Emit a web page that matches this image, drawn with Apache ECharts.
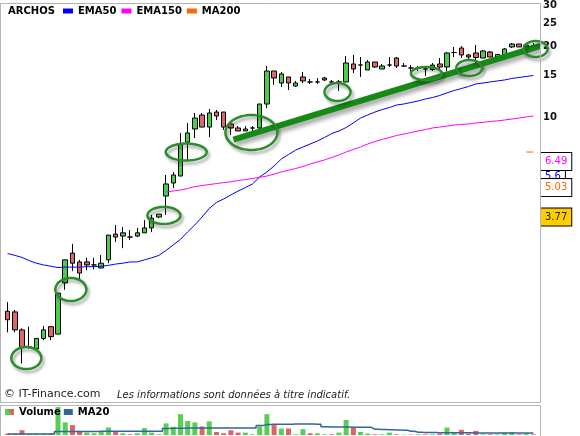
<!DOCTYPE html>
<html>
<head>
<meta charset="utf-8">
<script src="https://cdn.jsdelivr.net/npm/echarts@6/dist/echarts.min.js"></script>
<style>html,body{margin:0;padding:0;background:#fff}#c{width:580px;height:436px}</style>
</head>
<body>
<div id="c"></div>
<script>
// ---------- data ----------
const categories = Array.from({length: 74}, (_, i) => 'S' + (i + 1));
const opens  = [1.50,1.49,1.25,1.06,1.04,1.15,1.29,1.20,1.98,2.65,2.43,2.43,2.36,2.29,2.48,3.19,3.13,3.10,3.13,3.23,3.39,3.77,4.63,5.26,5.63,7.85,8.92,10.23,9.09,10.53,10.53,9.37,9.01,8.75,9.01,9.01,11.39,15.73,13.99,14.84,13.58,14.84,14.13,14.13,14.69,14.13,14.13,14.13,16.85,16.68,15.89,17.18,16.04,16.68,17.86,16.52,16.20,16.20,16.04,15.96,16.85,16.36,18.85,19.70,18.40,18.76,17.86,18.94,18.04,18.22,19.90,20.48,19.90,20.09];
const closes = [1.38,1.25,1.05,1.06,1.15,1.25,1.17,1.79,2.48,2.40,2.18,2.36,2.36,2.40,3.16,3.10,3.23,3.10,3.23,3.39,3.73,3.88,5.21,5.69,7.70,8.58,9.93,9.09,10.43,10.13,9.09,9.01,8.75,8.92,9.01,11.39,15.73,14.69,15.28,13.99,13.99,14.27,14.13,14.13,14.41,14.13,14.13,17.01,16.04,16.68,17.18,16.36,16.52,16.68,16.52,16.52,16.20,16.20,16.04,16.68,16.36,18.76,18.85,18.40,18.04,17.95,19.13,18.04,18.50,19.51,20.48,19.90,20.28,20.09];
const lows   = [1.22,1.22,0.90,1.04,1.04,1.13,1.13,1.20,1.85,2.22,2.04,2.24,2.26,2.29,2.40,2.95,2.78,3.01,3.10,3.23,3.26,3.73,3.85,5.01,5.63,6.59,8.17,9.09,8.25,9.74,8.83,8.41,8.75,8.75,8.75,8.83,10.95,13.72,13.45,13.06,13.45,13.99,13.85,13.85,14.27,13.85,12.93,14.13,15.43,14.84,15.89,16.20,16.04,16.36,16.20,16.36,15.58,15.73,14.98,15.73,15.89,15.73,18.04,17.86,17.52,16.52,17.86,18.04,18.04,18.22,19.70,19.90,19.70,19.32];
const highs  = [1.64,1.52,1.27,1.29,1.15,1.30,1.29,1.79,2.48,2.90,2.48,2.53,2.53,2.60,3.16,3.49,3.42,3.32,3.39,3.66,3.85,3.88,5.69,5.86,8.58,9.46,10.43,10.43,10.85,10.74,10.53,9.55,9.18,9.18,9.18,11.39,16.52,15.73,15.58,14.84,14.27,15.58,14.55,14.69,14.84,14.41,14.41,18.22,18.40,18.04,17.52,17.18,16.85,18.04,18.04,17.01,16.68,16.52,16.36,17.01,17.86,18.94,19.90,20.09,18.58,20.28,19.32,19.13,18.58,19.70,20.68,20.48,20.48,20.68];
const ema50  = [2.64,2.59,2.54,2.46,2.40,2.36,2.33,2.30,2.31,2.31,2.31,2.32,2.32,2.33,2.35,2.38,2.40,2.43,2.43,2.48,2.53,2.59,2.72,2.87,3.03,3.26,3.49,3.77,4.10,4.35,4.50,4.68,4.86,5.03,5.21,5.58,5.86,6.21,6.65,6.95,7.26,7.48,7.70,7.93,8.21,8.53,8.75,9.05,9.46,9.93,10.23,10.53,10.79,11.00,11.28,11.39,11.56,11.73,11.96,12.14,12.38,12.70,13.00,13.25,13.52,13.85,13.99,14.13,14.27,14.41,14.62,14.76,14.91,15.05];
const ema150 = [null,null,null,null,null,null,null,null,null,null,null,null,null,null,null,null,null,null,null,null,null,null,4.82,4.86,4.91,4.98,5.08,5.13,5.18,5.23,5.28,5.32,5.39,5.44,5.50,5.56,5.63,5.74,5.86,5.96,6.06,6.18,6.33,6.46,6.59,6.75,6.92,7.12,7.30,7.48,7.70,7.89,8.05,8.21,8.37,8.49,8.62,8.75,8.87,9.01,9.09,9.18,9.27,9.32,9.37,9.46,9.52,9.60,9.66,9.74,9.83,9.93,10.03,10.13];
const ma200  = [null,null,null,null,null,null,null,null,null,null,null,null,null,null,null,null,null,null,null,null,null,null,null,null,null,null,null,null,null,null,null,null,null,null,null,null,null,null,null,null,null,null,null,null,null,null,null,null,null,null,null,null,null,null,null,null,null,null,null,null,null,null,null,null,null,null,null,null,null,null,null,null,7.12,7.12];
const volumes = [100,100,350,100,100,100,100,2050,925,725,300,175,125,275,550,225,125,50,125,500,175,50,850,600,1525,1025,925,625,1000,225,125,350,175,175,50,625,1525,725,475,475,50,425,125,125,50,50,175,1100,550,225,100,50,50,175,50,25,25,50,50,50,100,550,225,375,100,300,50,50,50,175,225,50,100,50];
const volMA20 = [75,75,75,75,75,75,75,250,250,260,260,265,265,270,270,275,275,275,280,280,280,280,480,490,500,505,510,510,510,515,515,515,520,520,520,700,760,780,790,790,800,800,800,790,600,590,580,580,570,560,560,420,400,380,360,340,280,200,190,180,170,170,170,160,160,150,150,150,150,150,150,150,150,150];
const yTickLabels = [10, 15, 20, 25, 30];
const lastEMA150 = 6.49, lastEMA50 = 5.6, lastMA200 = 5.03, lastPrice = 3.77;
// trend line endpoints [category position, price]
const trendLine = [[31.35, 8.04], [73.97, 20.09]];
// circled zones: [category position, price]
const circleCenters = [[2.6, 0.949], [8.78, 1.856], [21.7, 3.83], [24.8, 7.12], [33.85, 8.62], [45.8, 12.81], [58.15, 15.35], [64.1, 16.20], [73.3, 19.51]];

// ---------- styling ----------
const circleRadii = [[15, 11], [15.5, 11.5], [16.5, 8.5], [20.5, 8.5], [26, 17.5], [13, 9], [15.5, 6.5], [13, 8], [12, 8]];
const FONT = 'DejaVu Sans';
const UP = '#4ccc4c', DOWN = '#dd6666', VUP = '#55d055', VDOWN = '#e06262';
const MARK_GREEN = '#168a16';

function markAt(value, color, bg) {
  return {
    silent: true, symbol: 'none', animation: false,
    lineStyle: { color: 'rgba(0,0,0,0)', width: 1, type: 'solid' },
    label: {
      show: true, position: 'end', distance: 4, formatter: String(value),
      color: color, backgroundColor: bg || '#fff', borderColor: '#000', borderWidth: 1,
      padding: [3, 4, 2, 4], fontFamily: FONT, fontSize: 10, lineHeight: 12
    },
    emphasis: { disabled: true },
    data: [{ yAxis: value }]
  };
}

const chart = echarts.init(document.getElementById('c'), null, { renderer: 'canvas' });
const candleData = opens.map((o, i) => [o, closes[i], lows[i], highs[i]]);

chart.setOption({
  animation: false,
  backgroundColor: '#fff',
  title: {
    text: 'ARCHOS', left: 8, top: 6, padding: 0,
    textStyle: { fontFamily: FONT, fontWeight: 'bold', fontSize: 10, color: '#000' }
  },
  legend: [{
    data: ['EMA50', 'EMA150', 'MA200'], left: 63, top: 6, padding: 0,
    itemWidth: 10, itemHeight: 5, itemGap: 5, icon: 'rect', selectedMode: false,
    textStyle: { fontFamily: FONT, fontWeight: 'bold', fontSize: 10, color: '#000' }
  }, {
    data: [
      { name: 'Volume', icon: 'rect', itemStyle: { color: { type: 'linear', x: 0, y: 1, x2: 1, y2: 0,
        colorStops: [{ offset: 0, color: VUP }, { offset: 0.5, color: VUP }, { offset: 0.5, color: VDOWN }, { offset: 1, color: VDOWN }] } } },
      { name: 'MA20', icon: 'rect' }
    ],
    left: 5, top: 407, padding: 0, itemWidth: 9, itemHeight: 6, itemGap: 3, selectedMode: false,
    textStyle: { fontFamily: FONT, fontWeight: 'bold', fontSize: 10, color: '#000' }
  }],
  grid: [
    { left: 4, right: 43, top: 4, height: 396 },
    { left: 4, right: 43, top: 407, height: 28 }
  ],
  xAxis: [
    { type: 'category', gridIndex: 0, data: categories, boundaryGap: true, show: false },
    { type: 'value', gridIndex: 0, min: -0.5, max: 73.5, show: false },
    { type: 'category', gridIndex: 1, data: categories, boundaryGap: true, show: false }
  ],
  yAxis: [
    {
      type: 'log', logBase: 10, gridIndex: 0, position: 'right', min: 0.6296, max: 30.29,
      splitLine: { show: false }, axisTick: { show: false }, axisLine: { show: false },
      axisLabel: {
        customValues: yTickLabels, margin: 6, color: '#111',
        fontFamily: FONT, fontWeight: 'bold', fontSize: 10
      }
    },
    { type: 'value', gridIndex: 1, min: 0, max: 2050, show: false, splitLine: { show: false } }
  ],
  series: [
    {
      name: 'ARCHOS', type: 'candlestick', xAxisIndex: 0, yAxisIndex: 0, data: candleData,
      barWidth: 5,
      itemStyle: { color: UP, color0: DOWN, borderColor: '#000', borderColor0: '#000', borderWidth: 1 },
      markLine: markAt(lastPrice, '#222', '#ffcc00')
    },
    {
      name: 'EMA50', type: 'line', xAxisIndex: 0, yAxisIndex: 0, data: ema50, symbol: 'none',
      itemStyle: { color: '#0000ff' }, lineStyle: { color: '#0000ff', width: 1 },
      markLine: markAt(lastEMA50, '#0000ff')
    },
    {
      name: 'EMA150', type: 'line', xAxisIndex: 0, yAxisIndex: 0, data: ema150, symbol: 'none',
      itemStyle: { color: '#ff00ff' }, lineStyle: { color: '#ff00ff', width: 1 },
      markLine: markAt(lastEMA150, '#ff00ff')
    },
    {
      name: 'MA200', type: 'line', xAxisIndex: 0, yAxisIndex: 0, data: ma200, symbol: 'none',
      itemStyle: { color: '#ff6600' }, lineStyle: { color: '#ff6600', width: 1 },
      markLine: markAt(lastMA200, '#ff6600')
    },
    {
      name: 'trend', type: 'line', xAxisIndex: 1, yAxisIndex: 0, data: trendLine, symbol: 'none',
      clip: false, silent: true, z: 5,
      lineStyle: { color: MARK_GREEN, width: 6, cap: 'butt',
        shadowColor: 'rgba(0,0,0,0.35)', shadowBlur: 4, shadowOffsetX: 2, shadowOffsetY: 4 }
    },
    {
      name: 'zones', type: 'custom', xAxisIndex: 1, yAxisIndex: 0, data: circleCenters,
      clip: false, silent: true, z: 6,
      renderItem: function (params, api) {
        const c = api.coord([api.value(0), api.value(1)]);
        const r = circleRadii[params.dataIndex];
        const pts = [];
        for (let k = 0; k <= 60; k++) {
          const a = k / 60 * Math.PI * 2;
          pts.push([c[0] + r[0] * Math.cos(a), c[1] + r[1] * Math.sin(a)]);
        }
        return {
          type: 'polyline', shape: { points: pts },
          style: { fill: 'none', stroke: '#2a8c2a', lineWidth: 2.5,
            shadowColor: 'rgba(0,0,0,0.35)', shadowBlur: 3, shadowOffsetX: 2, shadowOffsetY: 3 }
        };
      }
    },
    {
      name: 'Volume', type: 'bar', xAxisIndex: 2, yAxisIndex: 1, data: volumes, barWidth: 5,
      itemStyle: {
        color: function (p) {
          const i = p.dataIndex;
          const prev = i > 0 ? closes[i - 1] : opens[i];
          return closes[i] >= prev ? VUP : VDOWN;
        }
      }
    },
    {
      name: 'MA20', type: 'line', xAxisIndex: 2, yAxisIndex: 1, data: volMA20, symbol: 'none', step: 'middle',
      itemStyle: { color: '#336699' }, lineStyle: { color: '#336699', width: 1.5 }
    }
  ],
  graphic: [
    { type: 'rect', silent: true, z: 100, shape: { x: 0.5, y: 3.5, width: 540, height: 399 },
      style: { fill: 'none', stroke: '#b4b4b4', lineWidth: 1 } },
    { type: 'rect', silent: true, z: 100, shape: { x: 0.5, y: 405.5, width: 540, height: 40 },
      style: { fill: 'none', stroke: '#b4b4b4', lineWidth: 1 } },
    { type: 'text', silent: true, left: 4, top: 389,
      style: { text: '© IT-Finance.com', font: '11px "DejaVu Sans"', fill: '#222' } },
    { type: 'text', silent: true, left: 117, top: 390,
      style: { text: 'Les informations sont données à titre indicatif.', font: 'italic 10px "DejaVu Sans"', fill: '#222' } }
  ]
});
</script>
</body>
</html>
